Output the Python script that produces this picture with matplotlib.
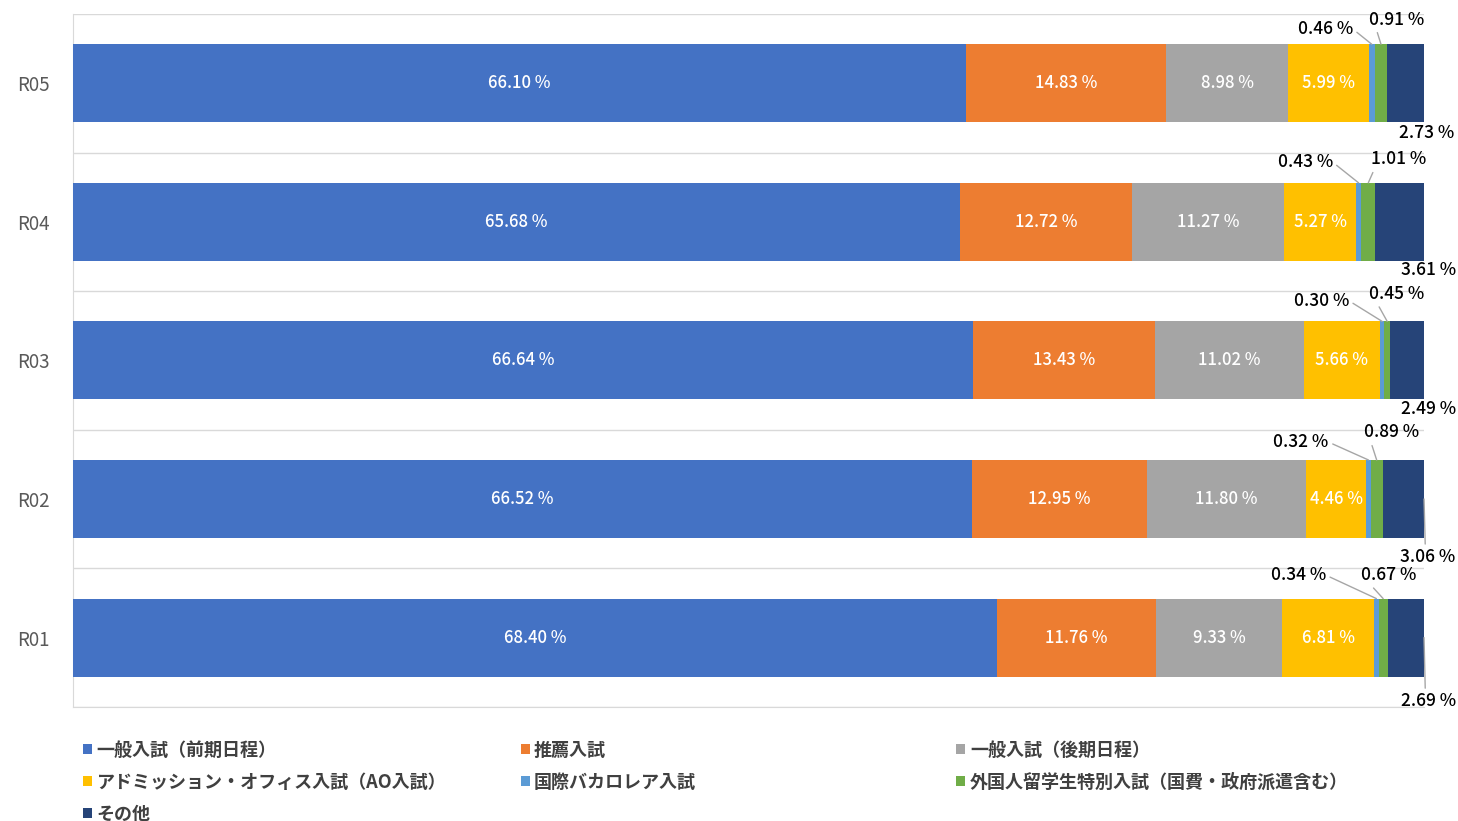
import matplotlib.pyplot as plt
import numpy as np

plt.rcParams['font.family'] = ['Noto Sans CJK JP', 'DejaVu Sans']

# data
years = ['R01', 'R02', 'R03', 'R04', 'R05']
series = ['一般入試（前期日程）', '推薦入試', '一般入試（後期日程）',
          'アドミッション・オフィス入試（AO入試）', '国際バカロレア入試',
          '外国人留学生特別入試（国費・政府派遣含む）', 'その他']
zenki = [68.40, 66.52, 66.64, 65.68, 66.10]
suisen = [11.76, 12.95, 13.43, 12.72, 14.83]
kouki = [9.33, 11.80, 11.02, 11.27, 8.98]
ao = [6.81, 4.46, 5.66, 5.27, 5.99]
ib = [0.34, 0.32, 0.30, 0.43, 0.46]
ryugaku = [0.67, 0.89, 0.45, 1.01, 0.91]
sonota = [2.69, 3.06, 2.49, 3.61, 2.73]

colors = ['#4472C4', '#ED7D31', '#A5A5A5', '#FFC000', '#5B9BD5', '#70AD47', '#264478']

# where the outside labels sit (x in %, y offset in category units)
ib_pos = [(90.7, 0.45), (90.9, 0.41), (92.4, 0.43), (91.2, 0.43), (92.7, 0.39)]
ryu_pos = [(97.4, 0.45), (97.6, 0.48), (98.0, 0.48), (98.1, 0.45), (98.0, 0.46)]
son_pos = [(100.3, -0.46), (100.3, -0.42), (100.3, -0.35), (100.3, -0.35), (100.2, -0.36)]

fig = plt.figure(figsize=(14.58, 8.21), dpi=100)
ax = fig.add_axes([0.05, 0.139, 0.9267, 0.844])

data = [zenki, suisen, kouki, ao, ib, ryugaku, sonota]
y = np.arange(len(years))
h = 0.563
left = np.zeros(len(years))
bars = []
for vals, c, name in zip(data, colors, series):
    b = ax.barh(y, vals, left=left, height=h, color=c, label=name, zorder=3)
    bars.append(b)
    left = left + np.array(vals)

# labels inside the big segments
for k in range(4):
    for i, rect in enumerate(bars[k]):
        v = data[k][i]
        ax.text(rect.get_x() + rect.get_width() / 2, y[i], f'{v:.2f} %',
                ha='center', va='center', color='white', fontsize=12,
                fontweight='medium', zorder=5)

# outside labels with leader lines
line_kw = dict(arrowstyle='-', color='#A6A6A6', lw=1, shrinkA=1, shrinkB=0)
lab_kw = dict(ha='center', va='center', fontsize=12.5, fontweight='medium', zorder=5)
for i in range(len(years)):
    r = bars[4][i]
    tx, dy = ib_pos[i]
    ax.annotate(f'{ib[i]:.2f} %', xy=(r.get_x() + r.get_width() / 2, y[i] + h / 2),
                xytext=(tx, y[i] + dy),
                arrowprops=dict(relpos=(1, 0.5), **line_kw), **lab_kw)
    r = bars[5][i]
    tx, dy = ryu_pos[i]
    ax.annotate(f'{ryugaku[i]:.2f} %', xy=(r.get_x() + r.get_width() / 2, y[i] + h / 2),
                xytext=(tx, y[i] + dy),
                arrowprops=dict(relpos=(0.1, 0.2), **line_kw), **lab_kw)
    tx, dy = son_pos[i]
    if dy < -0.4:
        ax.annotate(f'{sonota[i]:.2f} %', xy=(100, y[i]),
                    xytext=(tx, y[i] + dy),
                    arrowprops=dict(relpos=(0.45, 1), **line_kw), **lab_kw)
    else:
        ax.text(tx, y[i] + dy, f'{sonota[i]:.2f} %', **lab_kw)

ax.set_xlim(0, 100)
ax.set_ylim(-0.5, 4.5)
ax.set_yticks(y)
ax.set_yticklabels(years, fontsize=13.5, color='#595959')
ax.tick_params(axis='y', length=0, pad=17)
ax.set_xticks([])
ax.set_yticks(np.arange(-0.5, 5, 1), minor=True)
ax.tick_params(axis='y', which='minor', length=0)
ax.grid(axis='y', which='minor', color='#D9D9D9', lw=1, zorder=0)
for s in ['top', 'right']:
    ax.spines[s].set_visible(False)
ax.spines['left'].set_color('#D9D9D9')
ax.spines['bottom'].set_color('#D9D9D9')

# legend in three columns placed by hand
cols = [[0, 3, 6], [1, 4], [2, 5]]
xs = [0.057, 0.357, 0.656]
handles = [b.patches[0] for b in bars]
for xpos, idx in zip(xs, cols):
    lg = fig.legend([handles[j] for j in idx], [series[j] for j in idx],
                    loc='upper left', bbox_to_anchor=(xpos, 0.098), frameon=False,
                    handlelength=0.5, handleheight=0.5, handletextpad=0.25,
                    labelspacing=0.72, borderaxespad=0, borderpad=0,
                    prop={'size': 13, 'weight': 'bold'})
    for t in lg.get_texts():
        t.set_color('#404040')

fig.savefig('out.png', dpi=100)
